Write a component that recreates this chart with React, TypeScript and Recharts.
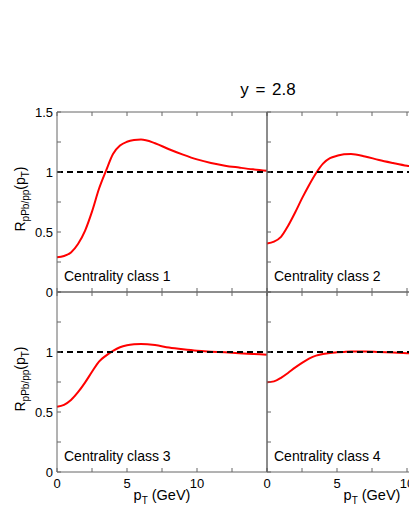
import React from 'react';
import { LineChart, Line, XAxis, YAxis, ReferenceLine } from 'recharts';

// ---------- data ----------
const X_VALUES = [0, 0.5, 1, 1.5, 2, 2.5, 3, 3.5, 4, 4.5, 5, 5.5, 6, 7, 8, 9, 10, 11, 12, 13, 14, 15];
const CLASS1 = [0.29, 0.3, 0.33, 0.4, 0.51, 0.67, 0.86, 1.01, 1.15, 1.22, 1.252, 1.266, 1.27, 1.24, 1.19, 1.145, 1.105, 1.075, 1.053, 1.037, 1.022, 1.01];
const CLASS2 = [0.405, 0.42, 0.46, 0.55, 0.66, 0.78, 0.89, 0.99, 1.07, 1.115, 1.135, 1.148, 1.15, 1.13, 1.1, 1.075, 1.052, 1.035, 1.025, 1.015, 1.008, 1.0];
const CLASS3 = [0.544, 0.56, 0.6, 0.665, 0.745, 0.835, 0.92, 0.97, 1.01, 1.04, 1.056, 1.064, 1.067, 1.058, 1.037, 1.022, 1.01, 1.003, 0.997, 0.99, 0.984, 0.978];
const CLASS4 = [0.747, 0.755, 0.785, 0.825, 0.87, 0.91, 0.945, 0.97, 0.983, 0.992, 0.997, 1.001, 1.004, 1.005, 1.0, 0.995, 0.99, 0.988, 0.985, 0.983, 0.981, 0.98];

const X_TICKS = [0, 2.5, 5, 7.5, 10, 12.5, 15];
const Y_TICKS = [0, 0.25, 0.5, 0.75, 1, 1.25, 1.5];
const X_TICK_LABELS = [0, 5, 10];
const Y_TICK_LABELS_TOP = [0, 0.5, 1, 1.5];
const Y_TICK_LABELS_BOTTOM = [0, 0.5, 1];
const PANEL_NAMES = ['Centrality class 1', 'Centrality class 2', 'Centrality class 3', 'Centrality class 4'];
const TITLE = 'y = 2.8';
const REFERENCE_VALUE = 1;

// ---------- style / geometry ----------
const FONT = '"Liberation Sans", Arial, Helvetica, sans-serif';
const FRAME = '#666666';
const PANEL_W = 210;
const PANEL_H = 180;
const LEFT0 = 57;
const TOP0 = 112;
const TICK_LEN = 4;
const AX = 1; // thickness reserved for each axis

const makeTable = (ys: number[]) => X_VALUES.map((x, i) => ({ x, y: ys[i] }));

type Side = 'bottom' | 'top' | 'left' | 'right';

const makeTick = (side: Side, labels: number[]) => (props: any) => {
  const { x, y, payload } = props;
  const v = payload.value as number;
  let x2 = x;
  let y2 = y;
  if (side === 'bottom') y2 = y - TICK_LEN;
  if (side === 'top') y2 = y + TICK_LEN;
  if (side === 'left') x2 = x + TICK_LEN;
  if (side === 'right') x2 = x - TICK_LEN;
  const show = labels.some((l) => Math.abs(l - v) < 1e-9);
  return (
    <g>
      <line x1={x} y1={y} x2={x2} y2={y2} stroke={FRAME} strokeWidth={1} />
      {show && side === 'bottom' && (
        <text x={x} y={y + 16} textAnchor="middle" fontFamily={FONT} fontSize={13} fill="#000">
          {String(v)}
        </text>
      )}
      {show && side === 'left' && (
        <text x={x - 4} y={y} dy="0.36em" textAnchor="end" fontFamily={FONT} fontSize={13} fill="#000">
          {String(v)}
        </text>
      )}
    </g>
  );
};

const NO_LABELS: number[] = [];

function Panel(props: { ys: number[]; left: number; top: number; xLabels: number[]; yLabels: number[] }) {
  const { ys, left, top, xLabels, yLabels } = props;
  const data = makeTable(ys);
  const axisLine = { stroke: FRAME, strokeWidth: 1 };
  return (
    <div style={{ position: 'absolute', left: left - AX, top: top - AX }}>
      <LineChart
        width={PANEL_W + 2 * AX}
        height={PANEL_H + 2 * AX}
        data={data}
        margin={{ top: 0, right: 0, bottom: 0, left: 0 }}
      >
        <XAxis
          xAxisId={0}
          dataKey="x"
          type="number"
          domain={[0, 15]}
          ticks={X_TICKS}
          interval={0}
          height={AX}
          tickSize={0}
          tickMargin={0}
          tickLine={false}
          axisLine={axisLine}
          tick={makeTick('bottom', xLabels)}
        />
        <XAxis
          xAxisId="top"
          orientation="top"
          dataKey="x"
          type="number"
          domain={[0, 15]}
          ticks={X_TICKS}
          interval={0}
          height={AX}
          tickSize={0}
          tickMargin={0}
          tickLine={false}
          axisLine={axisLine}
          tick={makeTick('top', NO_LABELS)}
        />
        <YAxis
          yAxisId={0}
          type="number"
          domain={[0, 1.5]}
          ticks={Y_TICKS}
          interval={0}
          width={AX}
          tickSize={0}
          tickMargin={0}
          tickLine={false}
          axisLine={axisLine}
          tick={makeTick('left', yLabels)}
        />
        <YAxis
          yAxisId="right"
          orientation="right"
          type="number"
          domain={[0, 1.5]}
          ticks={Y_TICKS}
          interval={0}
          width={AX}
          tickSize={0}
          tickMargin={0}
          tickLine={false}
          axisLine={axisLine}
          tick={makeTick('right', NO_LABELS)}
        />
        <Line
          xAxisId={0}
          yAxisId={0}
          dataKey="y"
          type="monotone"
          stroke="#ff0000"
          strokeWidth={2}
          dot={false}
          isAnimationActive={false}
        />
        <ReferenceLine
          xAxisId={0}
          yAxisId={0}
          y={REFERENCE_VALUE}
          stroke="#000"
          strokeWidth={2}
          strokeDasharray="6 4"
        />
      </LineChart>
    </div>
  );
}

function YTitle({ cx, cy }: { cx: number; cy: number }) {
  return (
    <text x={cx} y={cy} transform={`rotate(-90 ${cx} ${cy})`} textAnchor="middle" fontFamily={FONT} fontSize={14} fill="#000">
      R
      <tspan dy={3.5} fontSize={10}>pPb/pp</tspan>
      <tspan dy={-3.5}>(p</tspan>
      <tspan dy={3.5} fontSize={10}>T</tspan>
      <tspan dy={-3.5}>)</tspan>
    </text>
  );
}

function XTitle({ cx, y }: { cx: number; y: number }) {
  return (
    <text x={cx} y={y} textAnchor="middle" fontFamily={FONT} fontSize={14.5} fill="#000">
      p
      <tspan dy={3.5} fontSize={10}>T</tspan>
      <tspan dy={-3.5}> (GeV)</tspan>
    </text>
  );
}

export default function App() {
  const panels = [
    { ys: CLASS1, col: 0, row: 0 },
    { ys: CLASS2, col: 1, row: 0 },
    { ys: CLASS3, col: 0, row: 1 },
    { ys: CLASS4, col: 1, row: 1 },
  ];
  return (
    <div
      style={{
        position: 'fixed',
        left: 0,
        top: 0,
        width: 409,
        height: 529,
        overflow: 'hidden',
        background: '#fff',
      }}
    >
      <style>{`.recharts-surface{overflow:visible}`}</style>
      {panels.map((p, i) => (
        <Panel
          key={i}
          ys={p.ys}
          left={LEFT0 + p.col * PANEL_W}
          top={TOP0 + p.row * PANEL_H}
          xLabels={p.row === 1 ? X_TICK_LABELS : NO_LABELS}
          yLabels={p.col === 0 ? (p.row === 0 ? Y_TICK_LABELS_TOP : Y_TICK_LABELS_BOTTOM) : NO_LABELS}
        />
      ))}
      <svg
        width={409}
        height={529}
        style={{ position: 'absolute', left: 0, top: 0, pointerEvents: 'none', overflow: 'visible' }}
      >
        <text
          x={LEFT0 + PANEL_W + 1}
          y={95}
          textAnchor="middle"
          fontFamily={FONT}
          fontSize={17}
          wordSpacing={2}
          fill="#000"
        >
          {TITLE}
        </text>
        {panels.map((p, i) => (
          <text
            key={i}
            x={LEFT0 + p.col * PANEL_W + 7}
            y={TOP0 + (p.row + 1) * PANEL_H - 11.5}
            fontFamily={FONT}
            fontSize={14}
            fill="#000"
          >
            {PANEL_NAMES[i]}
          </text>
        ))}
        <YTitle cx={25} cy={TOP0 + PANEL_H / 2 - 3} />
        <YTitle cx={25} cy={TOP0 + PANEL_H * 1.5 - 3} />
        <XTitle cx={LEFT0 + PANEL_W / 2} y={500} />
        <XTitle cx={LEFT0 + PANEL_W * 1.5} y={500} />
      </svg>
    </div>
  );
}
